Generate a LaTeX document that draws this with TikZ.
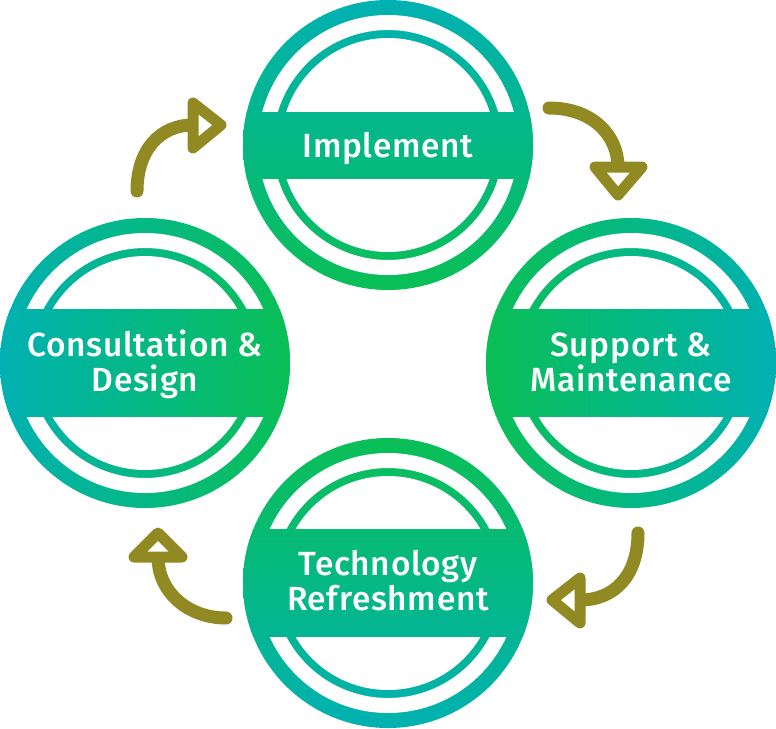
\documentclass[tikz,border=0pt]{standalone}
\usepackage{fontspec}
\newfontfamily\labfont{Fira Sans Medium}[LetterSpace=2]
\usetikzlibrary{calc}
\definecolor{tealc}{RGB}{0,177,178}
\definecolor{greenc}{RGB}{10,191,85}
\definecolor{olivec}{RGB}{145,138,34}
\tikzset{
  shtop/.style={top color=tealc,bottom color=greenc},
  shbottom/.style={top color=greenc,bottom color=tealc},
  shleft/.style={left color=tealc,right color=greenc},
  shright/.style={left color=greenc,right color=tealc},
  lab/.style={text=white,font=\labfont\fontsize{33.5}{35}\selectfont,align=center,inner sep=0pt},
  arrowline/.style={draw=olivec,line width=13pt,line cap=round},
  arrowtip/.style={draw=olivec,fill=white,line width=11pt,line join=round}
}
\newcommand\drawstage[3]{%
  \shade[#2] (#1) circle[radius=145];
  \fill[white,even odd rule] (#1) circle[radius=130] (#1) circle[radius=115];
  \fill[white] (#1) circle[radius=107];
  \begin{scope}
    \clip ($(#1)+(-150,-#3)$) rectangle ($(#1)+(150,#3)$);
    \shade[#2] (#1) circle[radius=145];
  \end{scope}
}
\begin{document}
\begin{tikzpicture}[x=1pt,y=-1pt]
\useasboundingbox (0,0) rectangle (776,728);
\coordinate (cI) at (388,145);
\coordinate (cC) at (145,363);
\coordinate (cS) at (631,363);
\coordinate (cT) at (388,583);
\drawstage{cI}{shtop}{33}
\drawstage{cC}{shleft}{53.5}
\drawstage{cS}{shright}{53.5}
\drawstage{cT}{shbottom}{53.5}
\node[lab,anchor=base] (tI) at (388,157) {Implement};
\node[lab,anchor=base] (tC) at (145,391) {Consultation \&\\Design};
\node[lab,anchor=base] (tS) at (631,391) {Support \&\\Maintenance};
\node[lab,anchor=base] (tT) at (388,610) {Technology\\Refreshment};
% arrows
\coordinate (a1s) at (137,191);
\coordinate (a1e) at (193,125);
\coordinate (a2s) at (549,108);
\coordinate (a2e) at (618,167);
\coordinate (a3s) at (638,533);
\coordinate (a3e) at (580,600);
\coordinate (a4s) at (226,618);
\coordinate (a4e) at (158,557);
\draw[arrowline] (a1s) .. controls (137,150) and (160,125) .. (a1e);
\draw[arrowline] (a2s) .. controls (592,108) and (618,135) .. (a2e);
\draw[arrowline] (a3s) .. controls (638,575) and (615,600) .. (a3e);
\draw[arrowline] (a4s) .. controls (188,618) and (158,592) .. (a4e);
\draw[arrowtip] (193,103) -- (193,148) -- (221,125) -- cycle;
\draw[arrowtip] (595,167) -- (642,167) -- (618,195) -- cycle;
\draw[arrowtip] (580,578) -- (580,623) -- (552,600) -- cycle;
\draw[arrowtip] (134,557) -- (182,557) -- (158,533) -- cycle;
\end{tikzpicture}
\end{document}
